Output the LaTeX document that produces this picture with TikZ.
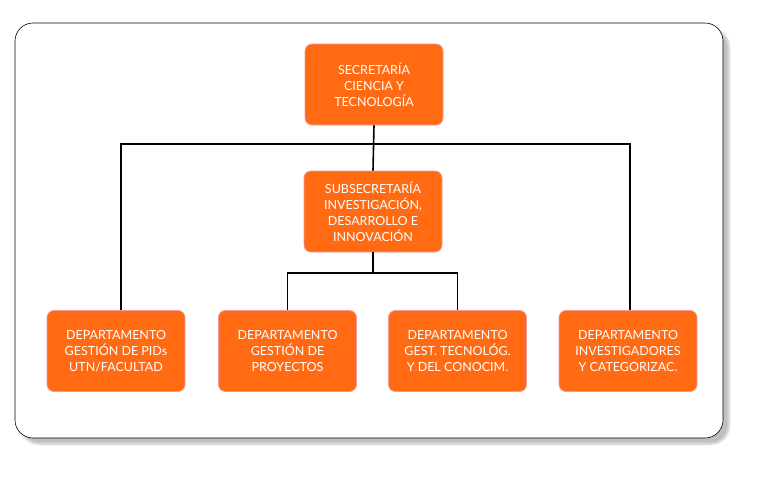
\documentclass[tikz,border=0pt]{standalone}
\usepackage{fontspec}
\setmainfont{Lato}
\usetikzlibrary{shadows.blur}
\definecolor{org}{HTML}{FF6A13}
\definecolor{orgb}{HTML}{F59A9A}
\begin{document}
\begin{tikzpicture}[x=1pt,y=-1pt,
  box/.style={draw=orgb,line width=0.8pt,fill=org,rounded corners=7pt,minimum width=138pt,minimum height=81pt,text=white,align=center,font=\fontsize{12.5}{16}\selectfont,inner sep=1pt},
  conn/.style={line width=1.6pt,black}]
\useasboundingbox (0,0) rectangle (772,480);
\draw[rounded corners=18pt,fill=white,draw=black,line width=0.6pt,blur shadow={shadow xshift=6pt,shadow yshift=-6pt,shadow blur steps=10,shadow opacity=25}] (15,23) rectangle (723,438);
\node[box] (sec) at (374,84.5) {SECRETARÍA\\CIENCIA Y\\TECNOLOGÍA};
\node[box] (sub) at (373,211.5) {SUBSECRETARÍA\\INVESTIGACIÓN,\\DESARROLLO E\\INNOVACIÓN};
\node[box] (d1) at (116,351) {DEPARTAMENTO\\GESTIÓN DE PIDs\\UTN/FACULTAD};
\node[box] (d2) at (287.5,351) {DEPARTAMENTO\\GESTIÓN DE\\PROYECTOS};
\node[box] (d3) at (457.5,351) {DEPARTAMENTO\\GEST. TECNOLÓG.\\Y DEL CONOCIM.};
\node[box] (d4) at (628,351) {DEPARTAMENTO\\INVESTIGADORES\\Y CATEGORIZAC.};
\coordinate (h1) at (121,144);
\coordinate (h2) at (630,144);
\draw[conn] (sec.south) -- (sub.north);
\draw[conn] (d1.north -| h1) |- (h2) -- (d4.north -| h2);
\coordinate (m) at (373,273);
\draw[conn] (sub.south) -- (m);
\draw[conn] (d2.north) |- (m) -| (d3.north);
\end{tikzpicture}
\end{document}
